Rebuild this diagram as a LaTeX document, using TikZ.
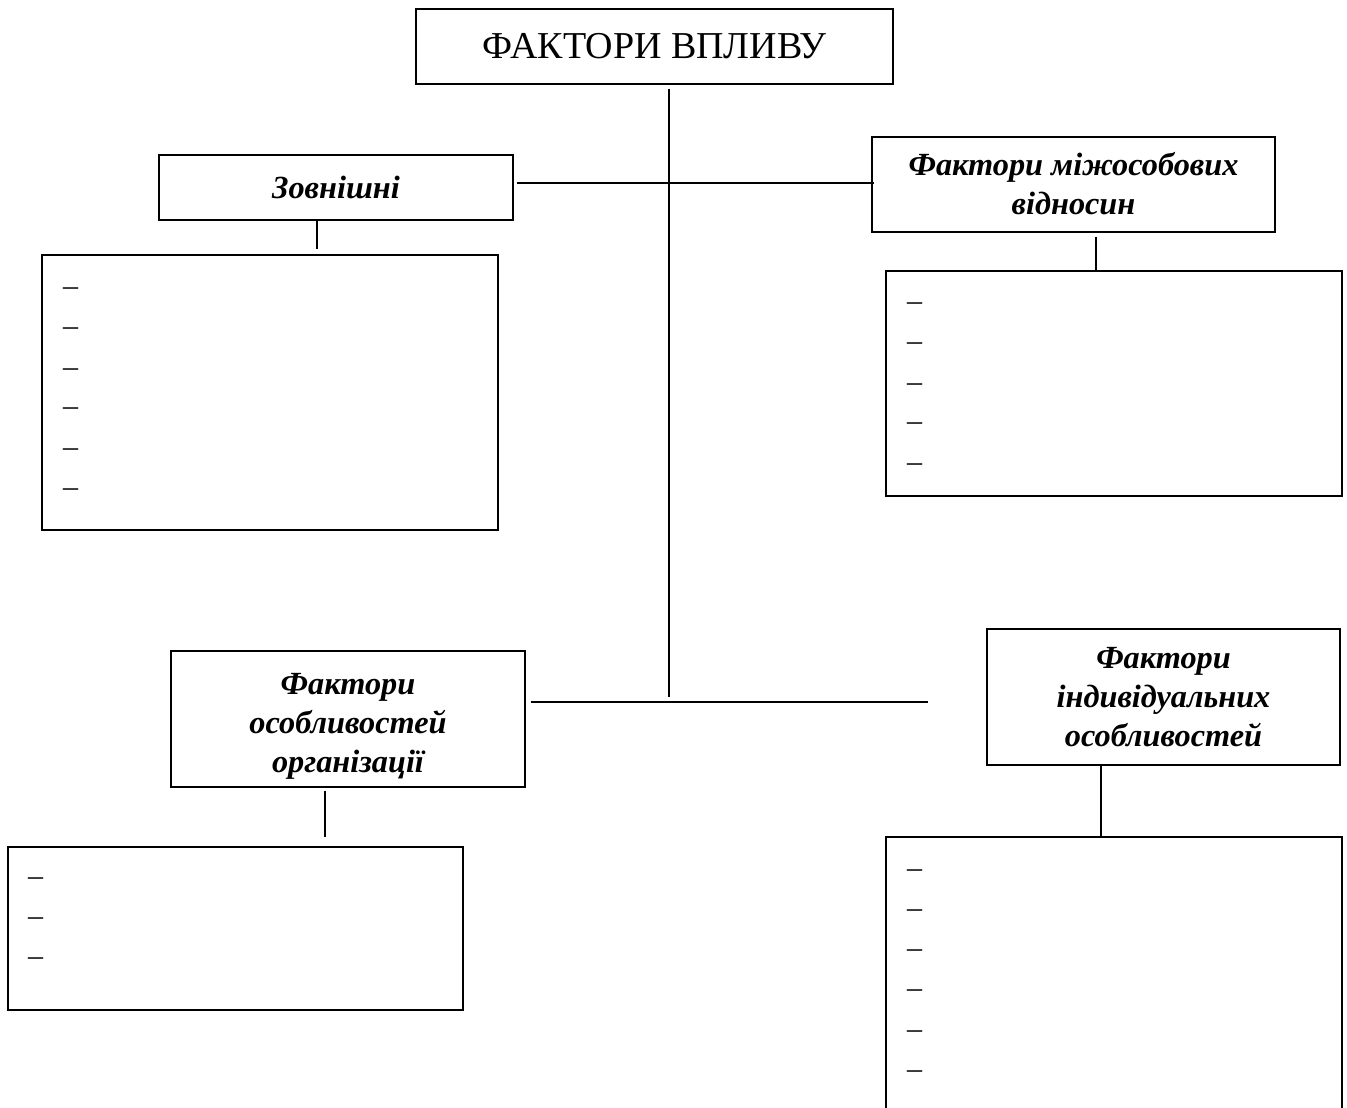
\documentclass[tikz,border=0pt]{standalone}
\usepackage{fontspec}
\setmainfont{Liberation Serif}
\newcommand{\lowertxt}[2]{\raisebox{-#1}[\height][\depth]{\begin{tabular}{@{}c@{}}#2\end{tabular}}}
\begin{document}
\begin{tikzpicture}[x=1pt,y=-1pt,
  box/.style={draw,line width=1.2pt,inner sep=0pt,align=center},
  head/.style={box,font=\fontsize{32.3}{39}\selectfont\bfseries\itshape},
  dashtxt/.style={anchor=base west,inner sep=0pt,font=\fontsize{30}{36}\selectfont},
  conn/.style={line width=1.2pt}]
\useasboundingbox (0,0) rectangle (1347,1108);
% top
\node[box,minimum width=477pt,minimum height=75pt,font=\fontsize{38}{42}\selectfont] (top) at (654.5,46.5) {ФАКТОРИ ВПЛИВУ};
% headings
\node[head,minimum width=354pt,minimum height=65pt] (ext) at (336,187.5) {Зовнішні};
\node[head,minimum width=403pt,minimum height=95pt] (inter) at (1073.5,184.5) {\lowertxt{3pt}{Фактори міжособових\\відносин}};
\node[head,minimum width=354pt,minimum height=136pt] (org) at (348,719) {\lowertxt{7pt}{Фактори\\особливостей\\організації}};
\node[head,minimum width=353pt,minimum height=136pt] (ind) at (1163.5,697) {\lowertxt{3pt}{Фактори\\індивідуальних\\особливостей}};
% list boxes
\node[box,minimum width=456pt,minimum height=275pt] (l1) at (270,392.5) {};
\node[box,minimum width=456pt,minimum height=225pt] (l2) at (1114,383.5) {};
\node[box,minimum width=455pt,minimum height=163pt] (l3) at (235.5,928.5) {};
\node[box,minimum width=456pt,minimum height=293pt] (l4) at (1114,983.5) {};
% dashes
\foreach \y [count=\i] in {287,327,368,407,448,488}
  \node[dashtxt] (d1\i) at (63,\y+8) {–};
\foreach \y [count=\i] in {302,342,383,422,463}
  \node[dashtxt] (d2\i) at (907,\y+8) {–};
\foreach \y [count=\i] in {877,917,957}
  \node[dashtxt] (d3\i) at (28,\y+8) {–};
\foreach \y [count=\i] in {869,909,949,989,1030,1070}
  \node[dashtxt] (d4\i) at (907,\y+8) {–};
% connectors
\coordinate (vend) at (669,697);
\draw[conn] ([yshift=-4pt]top.south -| vend) -- (vend);
\coordinate (hy) at (0,183);
\draw[conn] ([xshift=3pt]ext.east |- hy) -- ([xshift=3pt]inter.west |- hy);
\coordinate (hend) at (928,702);
\draw[conn] ([xshift=5pt]org.east |- hend) -- (hend);
\draw[conn] (ext.south -| 317,0) -- ([yshift=5pt]l1.north -| 317,0);
\draw[conn] ([yshift=-4pt]inter.south -| 1096,0) -- (l2.north -| 1096,0);
\draw[conn] ([yshift=-3pt]org.south -| 325,0) -- ([yshift=9pt]l3.north -| 325,0);
\draw[conn] (ind.south -| 1101,0) -- ([yshift=-1pt]l4.north -| 1101,0);
\end{tikzpicture}
\end{document}
